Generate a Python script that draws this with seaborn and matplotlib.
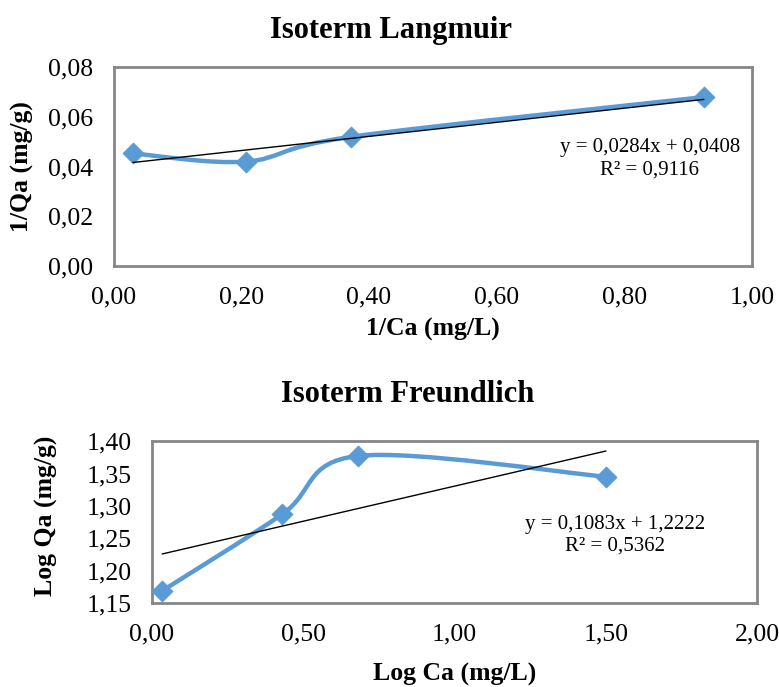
import matplotlib
matplotlib.use("Agg")
import matplotlib.pyplot as plt
from matplotlib.path import Path
from matplotlib.patches import PathPatch
from matplotlib.ticker import FuncFormatter
import numpy as np
import seaborn as sns

# Langmuir data
lang_x = [0.030, 0.207, 0.372, 0.925]
lang_y = [0.0453, 0.0420, 0.0520, 0.0680]
lang_slope, lang_icpt, lang_r2 = 0.0284, 0.0408, 0.9116

# Freundlich data
freu_x = [0.034, 0.430, 0.680, 1.500]
freu_y = [1.169, 1.287, 1.377, 1.345]
freu_slope, freu_icpt, freu_r2 = 0.1083, 1.2222, 0.5362

LINE_COLOR = '#5B9BD5'
SPINE_COLOR = '#868686'

sns.set_style('white')
plt.rcParams['font.family'] = ['Liberation Serif', 'DejaVu Serif']
plt.rcParams['text.color'] = 'black'
plt.rcParams['axes.labelcolor'] = 'black'
plt.rcParams['xtick.labelcolor'] = 'black'
plt.rcParams['ytick.labelcolor'] = 'black'


def smooth_path(xs, ys):
    """ Excel-like smoothed line: Catmull-Rom converted to cubic Bezier """
    pts = np.column_stack([xs, ys])
    n = len(pts)
    verts = [pts[0]]
    codes = [Path.MOVETO]
    for i in range(n - 1):
        p0 = pts[max(i - 1, 0)]
        p1 = pts[i]
        p2 = pts[i + 1]
        p3 = pts[min(i + 2, n - 1)]
        c1 = p1 + (p2 - p0) / 6.0
        c2 = p2 - (p3 - p1) / 6.0
        verts += [c1, c2, p2]
        codes += [Path.CURVE4] * 3
    return Path(verts, codes)


def comma_fmt(decimals):
    return FuncFormatter(lambda v, pos: f"{v:.{decimals}f}".replace('.', ','))


def draw_panel(ax, xs, ys, slope, icpt, r2, xlabel, ylabel,
               xlim, ylim, xticks, yticks, eq_pos, xlab_y, ylab_pos):
    ax.add_patch(PathPatch(smooth_path(xs, ys), facecolor='none',
                           edgecolor=LINE_COLOR, lw=3.2, zorder=3))
    sns.scatterplot(x=xs, y=ys, marker='D', s=110, color=LINE_COLOR,
                    edgecolor=LINE_COLOR, ax=ax, zorder=4)
    tx = np.array([min(xs), max(xs)])
    sns.lineplot(x=tx, y=slope * tx + icpt, color='black', lw=1.0, ax=ax, zorder=5)

    ax.set_xlim(*xlim)
    ax.set_ylim(*ylim)
    ax.set_xticks(xticks)
    ax.set_yticks(yticks)
    ax.xaxis.set_major_formatter(comma_fmt(2))
    ax.yaxis.set_major_formatter(comma_fmt(2))
    ax.tick_params(axis='both', direction='out', length=4.5, width=1.2,
                   color=SPINE_COLOR, labelcolor='black', labelsize=18.5, pad=10)
    for spine in ax.spines.values():
        spine.set_color(SPINE_COLOR)
        spine.set_linewidth(2)

    ax.set_xlabel(xlabel, fontsize=18.5, fontweight='bold', color='black')
    ax.set_ylabel(ylabel, fontsize=18.5, fontweight='bold', color='black')
    ax.xaxis.set_label_coords(0.5, xlab_y)
    ax.yaxis.set_label_coords(*ylab_pos)

    eq = f"y = {slope:.4f}x + {icpt:.4f}".replace('.', ',')
    rr = f"R² = {r2:.4f}".replace('.', ',')
    ax.text(eq_pos[0], eq_pos[1], eq + "\n" + rr, transform=ax.transAxes,
            ha='center', va='center', multialignment='center',
            fontsize=15, linespacing=1.2, color='black')


fig = plt.figure(figsize=(7.79, 6.87), dpi=100)
ax1 = fig.add_axes([0.146, 0.613, 0.819, 0.289])
ax2 = fig.add_axes([0.195, 0.122, 0.777, 0.236])

draw_panel(ax1, lang_x, lang_y, lang_slope, lang_icpt, lang_r2,
           '1/Ca (mg/L)', '1/Qa (mg/g)',
           (0, 1.0), (0, 0.08), np.arange(0, 1.01, 0.2), np.arange(0, 0.081, 0.02),
           (0.84, 0.54), -0.26, (-0.125, 0.5))
draw_panel(ax2, freu_x, freu_y, freu_slope, freu_icpt, freu_r2,
           'Log Ca (mg/L)', 'Log Qa (mg/g)',
           (0, 2.0), (1.15, 1.40), np.arange(0, 2.01, 0.5), np.arange(1.15, 1.401, 0.05),
           (0.765, 0.42), -0.37, (-0.155, 0.54))

fig.text(391 / 779, 0.956, 'Isoterm Langmuir', ha='center', va='center',
         fontsize=22, fontweight='bold', color='black')
fig.text(408 / 779, 0.426, 'Isoterm Freundlich', ha='center', va='center',
         fontsize=22, fontweight='bold', color='black')

fig.savefig('out.png', dpi=100)
